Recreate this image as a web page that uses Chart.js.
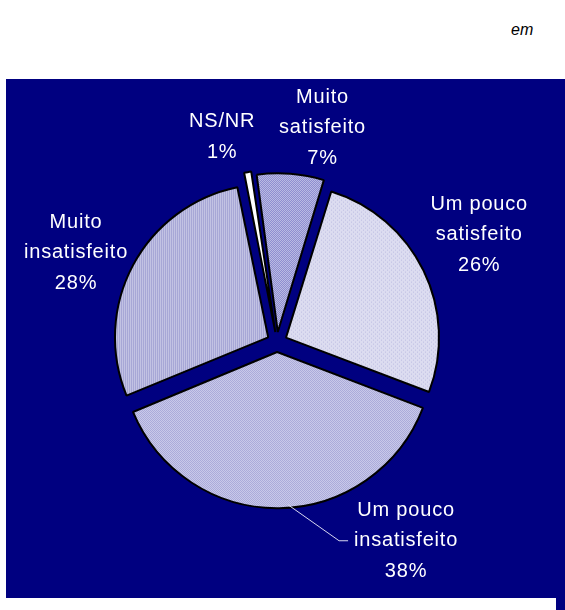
<!DOCTYPE html>
<html>
<head>
<meta charset="utf-8">
<script src="https://cdn.jsdelivr.net/npm/chart.js@4.4.0/dist/chart.umd.min.js"></script>
<style>
    html, body { margin: 0; padding: 0; background: #fff; }
    body { width: 565px; height: 610px; position: relative; overflow: hidden; font-family: "Liberation Sans", Arial, sans-serif; }
    .unit { position: absolute; left: 511px; top: 21px; font-size: 16px; font-style: italic; color: #000; }
    .panel { position: absolute; left: 6px; top: 79px; width: 559px; height: 519px; background: #000080; }
    .panel-tail { position: absolute; left: 556px; top: 598px; width: 9px; height: 12px; background: #000080; }
    #pieChart { position: absolute; left: 0; top: 0; }
</style>
</head>
<body>
<div class="unit">em</div>
<div class="panel"></div>
<div class="panel-tail"></div>
<canvas id="pieChart" width="565" height="610"></canvas>

<script>
// Data
const categories = ['Muito satisfeito', 'Um pouco satisfeito', 'Um pouco insatisfeito', 'Muito insatisfeito', 'NS/NR'];
const labelLines = [
    ['Muito', 'satisfeito', '7%'],
    ['Um pouco', 'satisfeito', '26%'],
    ['Um pouco', 'insatisfeito', '38%'],
    ['Muito', 'insatisfeito', '28%'],
    ['NS/NR', '1%']
];
const percents = [7, 26, 38, 28, 1];

// Label placement around the pie (degrees clockwise from top, distance from centre)
const labelAngle = [12, 62, 147, 294, 345];
const labelDist = [219, 229, 237, 220, 212];

// Small tiled fills that imitate the hatched fills of the original
function makePattern(size, draw) {
    const c = document.createElement('canvas');
    c.width = size;
    c.height = size;
    const g = c.getContext('2d');
    draw(g);
    return g.createPattern(c, 'repeat');
}

const fills = [
    makePattern(2, g => {
        g.fillStyle = '#cdcdec'; g.fillRect(0, 0, 2, 2);
        g.fillStyle = '#7c7cc8'; g.fillRect(0, 0, 1, 1); g.fillRect(1, 1, 1, 1);
    }),
    makePattern(4, g => {
        g.fillStyle = '#dcdcf0'; g.fillRect(0, 0, 4, 4);
        g.fillStyle = '#bcbce2'; g.fillRect(0, 0, 1, 1); g.fillRect(2, 2, 1, 1);
    }),
    makePattern(2, g => {
        g.fillStyle = '#d2d2ee'; g.fillRect(0, 0, 2, 2);
        g.fillStyle = '#a2a2d6'; g.fillRect(0, 0, 1, 1); g.fillRect(1, 1, 1, 1);
    }),
    makePattern(2, g => {
        g.fillStyle = '#cacae8'; g.fillRect(0, 0, 2, 2);
        g.fillStyle = '#a0a0d2'; g.fillRect(0, 0, 1, 2);
    }),
    '#ffffff'
];

// Chart.js v4 moves an arc by offset / 4
const sliceGap = 10;

const pieLabels = {
    id: 'pieLabels',
    afterDatasetsDraw(chart) {
        const ctx = chart.ctx;
        const arcs = chart.getDatasetMeta(0).data;
        ctx.save();
        ctx.font = '20px "Liberation Sans", Arial, sans-serif';
        ctx.letterSpacing = '0.8px';
        ctx.fillStyle = '#ffffff';
        ctx.textAlign = 'center';
        ctx.textBaseline = 'middle';
        const lineH = 30.5;
        arcs.forEach((arc, i) => {
            const a = (labelAngle[i] - 90) * Math.PI / 180;
            const cx = arc.x + Math.cos(a) * labelDist[i];
            const cy = arc.y + Math.sin(a) * labelDist[i];
            const lines = labelLines[i];
            const top = cy - (lines.length - 1) * lineH / 2;
            lines.forEach((t, k) => ctx.fillText(t, cx, top + k * lineH));

            // leader line for the biggest slice
            if (i === 2) {
                const p = arc.getProps(['startAngle', 'endAngle', 'outerRadius', 'x', 'y']);
                const half = (p.startAngle + p.endAngle) / 2;
                const ox = p.x + Math.cos(half) * sliceGap;
                const oy = p.y + Math.sin(half) * sliceGap;
                const ea = (176 - 90) * Math.PI / 180;
                const sx = ox + Math.cos(ea) * p.outerRadius;
                const sy = oy + Math.sin(ea) * p.outerRadius;
                const tx = cx - 67;
                ctx.strokeStyle = '#d8d8f0';
                ctx.lineWidth = 1;
                ctx.beginPath();
                ctx.moveTo(sx, sy);
                ctx.lineTo(tx, cy);
                ctx.lineTo(tx + 9, cy);
                ctx.stroke();
            }
        });
        ctx.restore();
    }
};

new Chart(document.getElementById('pieChart'), {
    type: 'pie',
    data: {
        labels: categories,
        datasets: [{
            data: percents,
            backgroundColor: fills,
            borderColor: '#000000',
            borderWidth: 2,
            offset: sliceGap * 4,
            radius: 153
        }]
    },
    options: {
        responsive: false,
        animation: false,
        rotation: -8,
        layout: { padding: { left: 0, right: 11, top: 74, bottom: 0 } },
        plugins: {
            legend: { display: false },
            tooltip: { enabled: false }
        }
    },
    plugins: [pieLabels]
});
</script>
</body>
</html>
